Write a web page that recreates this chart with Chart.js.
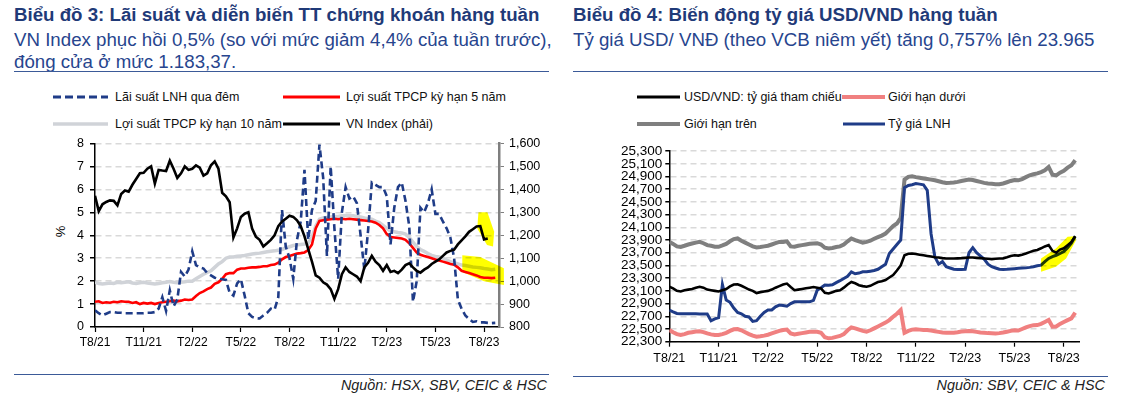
<!DOCTYPE html>
<html>
<head>
<meta charset="utf-8">
<script src="https://cdn.jsdelivr.net/npm/chart.js@4.4.0/dist/chart.umd.min.js"></script>
<style>
body{margin:0;background:#fff;width:1143px;height:409px;position:relative;overflow:hidden;font-family:"Liberation Sans",Arial,sans-serif;}
.t{position:absolute;white-space:nowrap;}
.title{font-weight:bold;font-size:18.7px;color:#1F3A78;line-height:20px;}
.sub{font-size:18.7px;color:#27458E;line-height:20px;}
.rule{position:absolute;height:0;border-top:1.5px solid #3B5A98;}
.lg{font-size:12.5px;color:#111;line-height:14px;}
.src{font-size:14.4px;font-style:italic;color:#222;line-height:16px;text-align:right;}
canvas{position:absolute;}
</style>
</head>
<body>

<!-- left panel -->
<div class="t title" style="left:14px;top:5px">Biểu đồ 3: Lãi suất và diễn biến TT chứng khoán hàng tuần</div>
<div class="t sub" style="left:14px;top:30px">VN Index phục hồi 0,5% (so với mức giảm 4,4% của tuần trước),</div>
<div class="t sub" style="left:14px;top:52px">đóng cửa ở mức 1.183,37.</div>
<div class="rule" style="left:14px;top:71px;width:535px"></div>

<!-- right panel -->
<div class="t title" style="left:573px;top:5px">Biểu đồ 4: Biến động tỷ giá USD/VND hàng tuần</div>
<div class="t sub" style="left:573px;top:30px">Tỷ giá USD/ VNĐ (theo VCB niêm yết) tăng 0,757% lên 23.965</div>
<div class="rule" style="left:573px;top:71px;width:535px"></div>

<svg style="position:absolute;left:0;top:0" width="1143" height="409">
  <line x1="53" y1="97" x2="108" y2="97" stroke="#1F3C88" stroke-width="3.2" stroke-dasharray="8,4"/>
  <line x1="283" y1="97" x2="340" y2="97" stroke="#FF0000" stroke-width="3"/>
  <line x1="53" y1="124" x2="108" y2="124" stroke="#D0D3D8" stroke-width="3.5"/>
  <line x1="283" y1="124" x2="340" y2="124" stroke="#000" stroke-width="3"/>
  <line x1="637" y1="97" x2="680" y2="97" stroke="#000" stroke-width="3"/>
  <line x1="842" y1="97" x2="885" y2="97" stroke="#F08080" stroke-width="4"/>
  <line x1="637" y1="124" x2="680" y2="124" stroke="#7F7F7F" stroke-width="4"/>
  <line x1="843" y1="124" x2="885" y2="124" stroke="#1F3C88" stroke-width="3"/>
</svg>
<div class="t lg" style="left:115px;top:90px">Lãi suất LNH qua đêm</div>
<div class="t lg" style="left:346px;top:90px">Lợi suất TPCP kỳ hạn 5 năm</div>
<div class="t lg" style="left:115px;top:117px">Lợi suất TPCP kỳ hạn 10 năm</div>
<div class="t lg" style="left:346px;top:117px">VN Index (phải)</div>
<div class="t lg" style="left:684px;top:90px">USD/VND: tỷ giá tham chiếu</div>
<div class="t lg" style="left:888px;top:90px">Giới hạn dưới</div>
<div class="t lg" style="left:684px;top:117px">Giới hạn trên</div>
<div class="t lg" style="left:888px;top:117px">Tỷ giá LNH</div>

<div class="t" style="left:55px;top:224px;font-size:13px;transform:rotate(-90deg);">%</div>

<canvas id="c1" width="560" height="230" style="left:0;top:130px"></canvas>
<canvas id="c2" width="520" height="225" style="left:580px;top:140px"></canvas>

<div class="rule" style="left:14px;top:374px;width:535px"></div>
<div class="rule" style="left:573px;top:376px;width:535px"></div>
<div class="t src" style="right:596px;top:377px">Nguồn: HSX, SBV, CEIC &amp; HSC</div>
<div class="t src" style="right:38px;top:377px">Nguồn: SBV, CEIC &amp; HSC</div>

<script>
// weekly points, week 0 = early Aug 2021
var tickWeeks = [0, 13, 26, 39, 52, 65, 78, 91, 104];
var tickLabels = ['T8/21', 'T11/21', 'T2/22', 'T5/22', 'T8/22', 'T11/22', 'T2/23', 'T5/23', 'T8/23'];

// ---- Biểu đồ 3 ----
var lnhRate = [0.73,0.6,0.51,0.58,0.65,0.65,0.62,0.62,0.6,0.6,
  0.6,0.6,0.6,0.6,0.62,0.62,0.65,0.8,1.3,0.7,
  1.6,0.9,1.2,2.4,2.2,2.5,3.3,2.7,2.6,2.55,
  2.35,2.25,2.15,2.1,2.08,2.05,1.5,1.37,1.9,2.08,
  1.37,0.6,0.44,0.38,0.37,0.5,0.62,0.8,0.75,1.3,
  5.1,3.5,3.0,2.1,3.8,4.6,6.85,3.8,5.1,5.5,
  7.95,6.5,3.1,7.0,4.3,2.1,5.0,6.1,5.6,5.7,
  5.4,4.0,2.5,4.2,6.3,6.2,6.1,6.1,5.7,3.6,
  5.2,6.1,6.3,5.5,4.4,1.1,2.0,5.2,5.0,5.4,
  6.0,4.93,4.93,4.6,4.3,3.9,3.0,1.2,0.8,0.5,
  0.35,0.22,0.25,0.2,0.2,0.18,0.17,0.18];
var bond5y = [1.1,1.12,1.05,1.08,1.06,1.1,1.08,1.12,1.1,1.1,
  1.05,1.08,1.0,1.05,1.02,1.05,1.0,1.05,1.08,1.1,
  1.12,1.15,1.12,1.15,1.2,1.18,1.2,1.35,1.48,1.55,
  1.65,1.72,1.88,1.95,2.1,2.3,2.35,2.35,2.5,2.55,
  2.55,2.58,2.6,2.6,2.62,2.65,2.65,2.7,2.72,2.8,
  2.95,3.05,3.1,3.15,3.2,3.22,3.25,3.35,3.6,4.3,
  4.62,4.65,4.68,4.7,4.72,4.7,4.72,4.7,4.72,4.7,
  4.68,4.66,4.64,4.62,4.6,4.55,4.45,4.3,4.05,3.92,
  3.9,3.88,3.86,3.8,3.65,3.45,3.25,3.15,3.1,3.05,
  3.0,2.94,2.9,2.85,2.8,2.75,2.72,2.6,2.45,2.4,
  2.35,2.3,2.25,2.18,2.15,2.15,2.13,2.15];
var bond10y = [1.95,1.9,1.88,1.9,1.92,1.9,1.95,1.93,1.95,1.97,
  1.92,1.9,1.93,1.95,1.92,1.9,1.88,1.9,1.93,1.95,
  1.98,1.95,1.93,1.95,1.97,2.0,2.0,2.1,2.2,2.3,
  2.38,2.45,2.6,2.75,2.85,3.0,3.05,3.05,3.08,3.1,
  3.12,3.15,3.18,3.2,3.22,3.25,3.28,3.3,3.32,3.35,
  3.38,3.45,3.5,3.55,3.58,3.6,3.62,3.65,3.9,4.4,
  4.7,4.75,4.78,4.8,4.82,4.82,4.85,4.86,4.86,4.85,
  4.82,4.8,4.75,4.72,4.7,4.62,4.55,4.43,4.3,4.18,
  4.15,4.12,4.1,4.05,3.9,3.7,3.5,3.38,3.3,3.2,
  3.12,3.08,3.05,3.0,2.92,2.85,2.8,2.75,2.7,2.68,
  2.65,2.62,2.6,2.58,2.55,2.53,2.5,2.52];
var vnIndex = [1372,1305,1335,1345,1352,1350,1330,1380,1395,1390,
  1420,1445,1470,1472,1490,1500,1425,1485,1482,1480,
  1525,1490,1450,1470,1500,1485,1490,1505,1495,1460,
  1470,1505,1522,1490,1385,1370,1344,1190,1230,1280,
  1294,1300,1229,1194,1180,1151,1165,1180,1200,1240,
  1260,1272,1285,1280,1265,1240,1195,1140,1085,1025,
  1015,995,985,965,923,965,1030,1060,1040,1030,
  1020,1000,1060,1080,1110,1085,1070,1045,1070,1040,
  1045,1035,1050,1070,1078,1060,1045,1037,1050,1060,
  1075,1085,1095,1110,1125,1132,1137,1160,1178,1195,
  1215,1226,1238,1240,1182,1186,null,null];

// ---- Biểu đồ 4 ----
var refRate = [23164,23140,23100,23090,23110,23120,23130,23150,23164,23150,
  23120,23110,23100,23090,23110,23130,23170,23200,23205,23180,
  23150,23120,23100,23065,23080,23090,23100,23120,23150,23175,
  23200,23215,23160,23110,23120,23130,23140,23150,23160,23150,
  23140,23070,23060,23080,23100,23110,23150,23200,23240,23220,
  23190,23175,23165,23180,23210,23240,23250,23270,23310,23350,
  23420,23500,23660,23685,23688,23680,23670,23660,23650,23640,
  23630,23625,23615,23610,23610,23610,23612,23615,23620,23625,
  23625,23620,23615,23610,23605,23600,23605,23610,23612,23630,
  23650,23660,23655,23670,23688,23710,23730,23745,23770,23800,
  23820,23730,23700,23750,23770,23820,23870,23960];
var upperBand = [23871,23840,23800,23793,23810,23830,23845,23860,23871,23850,
  23820,23810,23795,23793,23815,23840,23880,23915,23925,23890,
  23860,23830,23800,23783,23790,23800,23810,23830,23850,23870,
  23871,23880,23800,23795,23810,23820,23830,23840,23845,23850,
  23830,23780,23767,23775,23790,23800,23830,23880,23925,23900,
  23880,23860,23871,23890,23920,23945,23970,24003,24060,24120,
  24160,24250,24850,24895,24903,24890,24880,24870,24860,24851,
  24840,24825,24810,24798,24800,24805,24815,24830,24840,24851,
  24845,24830,24815,24800,24790,24785,24780,24778,24790,24810,
  24830,24845,24840,24860,24890,24919,24935,24950,24970,24998,
  25050,24930,24919,24960,24990,25040,25076,25155];
var lowerBand = [22484,22450,22420,22405,22420,22440,22450,22460,22463,22450,
  22430,22415,22405,22405,22420,22440,22470,22495,22500,22480,
  22450,22420,22395,22379,22385,22395,22410,22430,22450,22470,
  22484,22490,22430,22415,22425,22435,22445,22455,22457,22455,
  22440,22370,22353,22360,22375,22390,22420,22480,22526,22510,
  22490,22470,22457,22480,22510,22540,22570,22600,22640,22693,
  22740,22798,22441,22470,22490,22495,22490,22485,22484,22475,
  22465,22455,22445,22441,22440,22442,22450,22460,22465,22468,
  22465,22455,22445,22440,22435,22433,22430,22435,22445,22457,
  22470,22480,22475,22500,22526,22545,22560,22562,22580,22610,
  22641,22536,22540,22580,22610,22640,22667,22756];
var interbankFx = [22798,22770,22745,22740,22740,22740,22740,22738,22736,22735,
  22735,22630,22660,22680,23200,22955,22920,22830,22760,22740,
  22700,22690,22620,22630,22700,22760,22798,22800,22850,22876,
  22870,22860,22900,22928,22930,22928,22930,22928,22950,23112,
  23150,23191,23190,23195,23230,23260,23296,23330,23400,23370,
  23380,23400,23400,23410,23420,23440,23480,23520,23688,23760,
  23830,23900,24725,24760,24770,24788,24780,24770,24683,24000,
  23636,23520,23560,23480,23460,23440,23437,23437,23440,23700,
  23780,23700,23650,23600,23520,23480,23460,23440,23437,23440,
  23445,23450,23455,23460,23462,23470,23480,23495,23505,23560,
  23610,23640,23660,23688,23720,23780,23850,23960];

// highlighter marks (in data units: week, value)
var hlLeft = [
  {axis: 'y1', pts: [[102.5,1300],[104.9,1300],[106.7,1215],[106.4,1151],[104.8,1158],[102.2,1229]]},
  {axis: 'y', pts: [[98.2,3.13],[103,3.05],[109.3,2.56],[109.3,1.83],[104,2.0],[98.2,2.4]]}
];
var hlRight = [
  {axis: 'y', pts: [[98.0,23610],[101.9,23767],[105.0,23950],[107.2,23961],[107.2,23898],[104.6,23610],[101.9,23478],[98.0,23400]]}
];

function pts(arr) {
  return arr.map(function (v, i) { return {x: i, y: v}; });
}

function highlighter(shapes) {
  return {
    id: 'highlighter',
    afterDatasetsDraw: function (chart) {
      var ctx = chart.ctx;
      ctx.save();
      ctx.globalCompositeOperation = 'multiply';
      ctx.fillStyle = '#FFFF00';
      shapes.forEach(function (s) {
        var xs = chart.scales.x, ys = chart.scales[s.axis];
        ctx.beginPath();
        s.pts.forEach(function (p, k) {
          var px = xs.getPixelForValue(p[0]), py = ys.getPixelForValue(p[1]);
          if (k) ctx.lineTo(px, py); else ctx.moveTo(px, py);
        });
        ctx.closePath();
        ctx.fill();
      });
      ctx.restore();
    }
  };
}

var font = '"Liberation Sans", Arial, sans-serif';
Chart.defaults.font.family = font;
Chart.defaults.color = '#000';

function xAxis(h, size, pad) {
  return {
    type: 'linear', min: 0, max: 108,
    afterBuildTicks: function (s) { s.ticks = tickWeeks.map(function (v) { return {value: v}; }); },
    ticks: {
      autoSkip: false, maxRotation: 0, font: {size: size}, padding: pad,
      callback: function (v) { return tickLabels[tickWeeks.indexOf(v)]; }
    },
    grid: {drawOnChartArea: false, tickLength: 5, tickColor: '#000', tickWidth: 1.2},
    border: {color: '#000', width: 1.5},
    afterFit: function (s) { s.height = h; }
  };
}

var c1 = new Chart(document.getElementById('c1'), {
  type: 'line',
  data: {
    datasets: [
      {label: 'VN Index (phải)', data: pts(vnIndex), yAxisID: 'y1', borderColor: '#000', borderWidth: 2.6},
      {label: 'Lãi suất LNH qua đêm', data: pts(lnhRate), yAxisID: 'y', borderColor: '#1F3C88', borderWidth: 2.6, borderDash: [7, 4]},
      {label: 'Lợi suất TPCP kỳ hạn 5 năm', data: pts(bond5y), yAxisID: 'y', borderColor: '#FF0000', borderWidth: 2.6},
      {label: 'Lợi suất TPCP kỳ hạn 10 năm', data: pts(bond10y), yAxisID: 'y', borderColor: '#D0D3D8', borderWidth: 3.5}
    ]
  },
  options: {
    responsive: false, animation: false,
    layout: {padding: {top: 10, left: 0, right: 0, bottom: 0}},
    elements: {point: {radius: 0}, line: {tension: 0}},
    plugins: {legend: {display: false}, tooltip: {enabled: false}},
    scales: {
      x: xAxis(33, 12, 3),
      y: {
        position: 'left', min: 0, max: 8,
        ticks: {stepSize: 1, autoSkip: false, font: {size: 12.5}, padding: 6},
        grid: {color: '#D9D9D9', lineWidth: 1.5, tickColor: '#000', tickLength: 5},
        border: {color: '#000', width: 1.5, dash: [6, 4]},
        afterFit: function (s) { s.width = 95; }
      },
      y1: {
        position: 'right', min: 800, max: 1600,
        ticks: {stepSize: 100, autoSkip: false, font: {size: 12.5}, padding: 5,
          callback: function (v) { return v.toLocaleString('en-US'); }},
        grid: {drawOnChartArea: false, tickColor: '#7F7F7F', tickLength: 5},
        border: {color: '#7F7F7F', width: 2.5},
        afterFit: function (s) { s.width = 61; }
      }
    }
  },
  plugins: [highlighter(hlLeft)]
});

var c2 = new Chart(document.getElementById('c2'), {
  type: 'line',
  data: {
    datasets: [
      {label: 'USD/VND: tỷ giá tham chiếu', data: pts(refRate), borderColor: '#000', borderWidth: 2.6},
      {label: 'Tỷ giá LNH', data: pts(interbankFx), borderColor: '#1F3C88', borderWidth: 3},
      {label: 'Giới hạn trên', data: pts(upperBand), borderColor: '#7F7F7F', borderWidth: 4},
      {label: 'Giới hạn dưới', data: pts(lowerBand), borderColor: '#F08080', borderWidth: 4}
    ]
  },
  options: {
    responsive: false, animation: false,
    layout: {padding: {top: 10.7, left: 0, right: 21, bottom: 0}},
    elements: {point: {radius: 0}, line: {tension: 0}},
    plugins: {legend: {display: false}, tooltip: {enabled: false}},
    scales: {
      x: xAxis(23.3, 12.5, 4),
      y: {
        position: 'left', min: 22300, max: 25300,
        ticks: {stepSize: 200, autoSkip: false, font: {size: 13.5}, padding: 3,
          callback: function (v) { return v.toLocaleString('en-US'); }},
        grid: {color: '#D9D9D9', lineWidth: 1.5, tickColor: '#000', tickLength: 4},
        border: {color: '#000', width: 1.5, dash: [6, 4]},
        afterFit: function (s) { s.width = 89.3; }
      }
    }
  },
  plugins: [highlighter(hlRight)]
});
</script>
</body>
</html>
